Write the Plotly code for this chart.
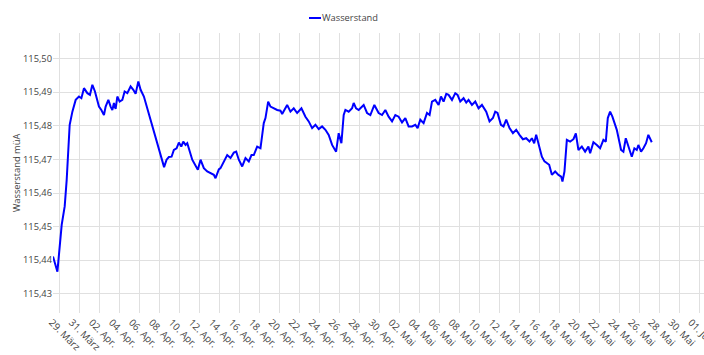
import pandas as pd
import plotly.graph_objects as go

# Days since 29.03. 00:00 and water level values (m ü. A.)
tage = [-0.67, -0.23, 0.2, 0.5, 0.7, 1.0, 1.27, 1.6, 1.93, 2.17, 2.43, 2.77, 3.03, 3.27, 3.53,
        3.93, 4.17, 4.43, 4.6, 4.87, 5.1, 5.27, 5.43, 5.6, 5.77, 6.0, 6.27, 6.5, 6.77, 7.1,
        7.37, 7.6, 7.87, 8.1, 8.43, 10.45, 10.7, 10.93, 11.2, 11.43, 11.7, 11.93, 12.17, 12.37,
        12.6, 12.77, 13.27, 13.6, 13.83, 14.1, 14.43, 14.77, 15.1, 15.43, 15.6, 15.93, 16.1,
        16.43, 16.77, 17.1, 17.43, 17.67, 17.93, 18.27, 18.6, 18.93, 19.2, 19.43, 19.77, 20.1,
        20.43, 20.6, 20.87, 21.1, 21.43, 21.77, 22.1, 22.27, 22.77, 23.1, 23.43, 23.77, 24.2,
        24.6, 24.93, 25.27, 25.6, 25.93, 26.27, 26.6, 26.93, 27.27, 27.67, 27.93, 28.2, 28.43,
        28.6, 28.93, 29.27, 29.43, 29.67, 29.93, 30.43, 30.77, 31.1, 31.5, 31.93, 32.27, 32.6,
        32.93, 33.27, 33.6, 33.93, 34.27, 34.6, 34.93, 35.27, 35.6, 35.83, 36.1, 36.43, 36.77,
        37.03, 37.27, 37.6, 37.93, 38.17, 38.43, 38.7, 38.93, 39.27, 39.6, 39.83, 40.1, 40.43,
        40.7, 40.93, 41.27, 41.6, 41.93, 42.27, 42.7, 43.03, 43.37, 43.6, 43.83, 44.17, 44.43,
        44.7, 45.03, 45.37, 45.7, 46.03, 46.37, 46.7, 47.03, 47.27, 47.5, 47.7, 47.93, 48.27,
        48.53, 48.77, 49.0, 49.27, 49.6, 49.93, 50.2, 50.33, 50.53, 50.77, 51.1, 51.43, 51.67,
        51.93, 52.27, 52.6, 52.93, 53.1, 53.43, 53.77, 54.1, 54.43, 54.67, 54.87, 55.1, 55.33,
        55.77, 56.2, 56.43, 56.67, 56.93, 57.27, 57.53, 57.77, 57.93, 58.2, 58.43, 58.7, 58.93,
        59.1, 59.27]

wasserstand = [115.4411, 115.4366, 115.4505, 115.4560, 115.4639, 115.4803, 115.4842, 115.4877,
               115.4887, 115.4882, 115.4912, 115.4897, 115.4892, 115.4922, 115.4902, 115.4857,
               115.4847, 115.4832, 115.4857, 115.4877, 115.4857, 115.4847, 115.4868, 115.4850,
               115.4887, 115.4872, 115.4877, 115.4902, 115.4897, 115.4917, 115.4907, 115.4895,
               115.4932, 115.4907, 115.4887, 115.4677, 115.4699, 115.4707, 115.4708, 115.4728,
               115.4733, 115.4750, 115.4738, 115.4753, 115.4743, 115.4748, 115.4699, 115.4679,
               115.4669, 115.4699, 115.4674, 115.4664, 115.4659, 115.4654, 115.4644, 115.4670,
               115.4674, 115.4694, 115.4713, 115.4704, 115.4720, 115.4723, 115.4699, 115.4679,
               115.4704, 115.4694, 115.4713, 115.4713, 115.4738, 115.4733, 115.4808, 115.4823,
               115.4872, 115.4857, 115.4852, 115.4847, 115.4845, 115.4835, 115.4862, 115.4842,
               115.4852, 115.4838, 115.4852, 115.4827, 115.4813, 115.4793, 115.4803, 115.4790,
               115.4798, 115.4788, 115.4773, 115.4743, 115.4723, 115.4778, 115.4748, 115.4832,
               115.4847, 115.4842, 115.4852, 115.4868, 115.4852, 115.4847, 115.4862, 115.4838,
               115.4832, 115.4862, 115.4838, 115.4832, 115.4847, 115.4827, 115.4813, 115.4832,
               115.4827, 115.4810, 115.4823, 115.4798, 115.4798, 115.4803, 115.4793, 115.4818,
               115.4808, 115.4838, 115.4832, 115.4872, 115.4877, 115.4862, 115.4887, 115.4872,
               115.4895, 115.4892, 115.4877, 115.4897, 115.4892, 115.4872, 115.4882, 115.4869,
               115.4877, 115.4862, 115.4872, 115.4852, 115.4862, 115.4842, 115.4813, 115.4823,
               115.4842, 115.4838, 115.4803, 115.4798, 115.4818, 115.4793, 115.4778, 115.4788,
               115.4773, 115.4760, 115.4763, 115.4753, 115.4763, 115.4748, 115.4773, 115.4748,
               115.4708, 115.4694, 115.4689, 115.4684, 115.4654, 115.4664, 115.4654, 115.4649,
               115.4634, 115.4664, 115.4758, 115.4753, 115.4760, 115.4777, 115.4728, 115.4738,
               115.4723, 115.4738, 115.4718, 115.4751, 115.4743, 115.4733, 115.4758, 115.4753,
               115.4823, 115.4842, 115.4827, 115.4788, 115.4728, 115.4723, 115.4763, 115.4738,
               115.4708, 115.4733, 115.4728, 115.4743, 115.4723, 115.4733, 115.4748, 115.4773,
               115.4763, 115.4751]

tick_dates = pd.date_range("2024-03-29", "2024-06-01", freq="2D")
tick_labels = ["29. März", "31. März", "02. Apr.", "04. Apr.", "06. Apr.", "08. Apr.", "10. Apr.",
               "12. Apr.", "14. Apr.", "16. Apr.", "18. Apr.", "20. Apr.", "22. Apr.", "24. Apr.",
               "26. Apr.", "28. Apr.", "30. Apr.", "02. Mai", "04. Mai", "06. Mai", "08. Mai",
               "10. Mai", "12. Mai", "14. Mai", "16. Mai", "18. Mai", "20. Mai", "22. Mai",
               "24. Mai", "26. Mai", "28. Mai", "30. Mai", "01. Jun."]

y_ticks = [115.43, 115.44, 115.45, 115.46, 115.47, 115.48, 115.49, 115.50]

start = pd.Timestamp("2024-03-29")
zeit = start + pd.to_timedelta(tage, unit="D")

FONT = "Open Sans, Noto Sans, sans-serif"
FS = 9.3
TXT = "#444444"
GRID = "#e0e0e0"

fig = go.Figure()
fig.add_trace(go.Scatter(x=zeit, y=wasserstand, mode="lines", name="Wasserstand",
                         line=dict(color="#0000ff", width=2), showlegend=False))

L, R, T, B, W, H = 53, 0, 33, 42, 704, 355
pw = W - L - R
ph = H - T - B

def px(xp):
    return (xp - L) / pw

def py(yp):
    return (H - B - yp) / ph

fig.update_layout(
    width=W, height=H,
    margin=dict(l=L, r=R, t=T, b=B, autoexpand=False),
    paper_bgcolor="white", plot_bgcolor="white",
    separators=",.",
    font=dict(family=FONT, size=FS, color=TXT),
    xaxis=dict(
        range=[start + pd.Timedelta(days=-0.67), start + pd.Timedelta(days=64.5)],
        tickvals=tick_dates, ticktext=tick_labels, tickangle=45, automargin=False,
        showgrid=True, gridcolor=GRID, gridwidth=1, zeroline=False, showline=False,
        ticks="", ticklabeloverflow="allow", ticklabelshift=-8, ticklabelstandoff=1,
        tickfont=dict(size=9.8, color=TXT),
    ),
    yaxis=dict(
        range=[115.4243, 115.5076], automargin=False,
        tickvals=y_ticks, tickformat=".2f",
        showgrid=True, gridcolor=GRID, gridwidth=1, zeroline=False, showline=False,
        tickfont=dict(size=FS, color=TXT),
        title=dict(text="Wasserstand müA", font=dict(size=FS, color=TXT), standoff=0),
    ),
    shapes=[dict(type="line", xref="paper", yref="paper",
                 x0=px(309), x1=px(321), y0=py(18), y1=py(18),
                 line=dict(color="#0000ff", width=2))],
    annotations=[dict(text="Wasserstand", xref="paper", yref="paper",
                      x=px(320), y=py(18), xanchor="left", yanchor="middle",
                      showarrow=False, font=dict(size=FS, color=TXT))],
)

fig.write_html("out.html")
